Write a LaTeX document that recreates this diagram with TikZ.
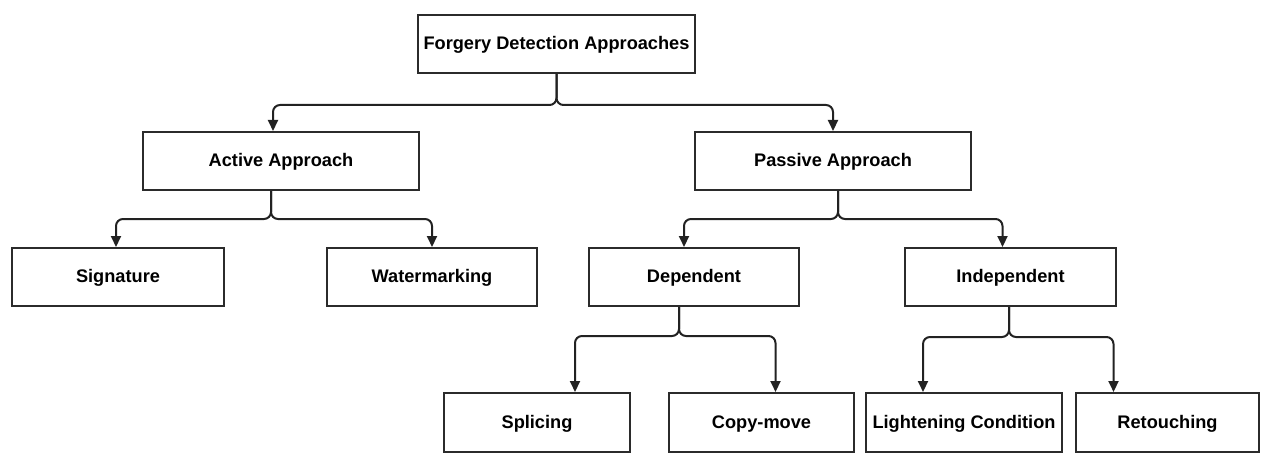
\documentclass[tikz,border=0pt]{standalone}
\usepackage{fontspec}
\setmainfont{Liberation Sans}
\usepackage{xcolor}
\usetikzlibrary{arrows.meta}
\definecolor{boxgray}{HTML}{2B2B2B}
\definecolor{linkgray}{HTML}{222222}

\begin{document}
\begin{tikzpicture}[x=0.5pt, y=-0.5pt, >=Stealth,
    every node/.style={font=\fontsize{9.1}{11}\selectfont\bfseries},
    box/.style={draw=boxgray, line width=1pt, fill=white, inner sep=0pt,
      minimum height=29pt, text height=6.6pt, text depth=1.1pt},
    link/.style={draw=linkgray, line width=1pt, rounded corners=3.5pt,
      -{Triangle[width=5pt,length=5.5pt]}}]
  \useasboundingbox (0,0) rectangle (1261,454);

  % top level
  \node[box, minimum width=138.5pt] (root) at (556.5,44) {Forgery Detection Approaches};
  \node[box, minimum width=138pt] (active) at (281,161) {Active Approach};
  \node[box, minimum width=138pt] (passive) at (833,161) {Passive Approach};

  % second level
  \node[box, minimum width=106pt] (signature) at (118,277) {Signature};
  \node[box, minimum width=105pt] (watermark) at (432,277) {Watermarking};
  \node[box, minimum width=105pt] (dependent) at (694,277) {Dependent};
  \node[box, minimum width=105.5pt] (independent) at (1010.5,277) {Independent};

  % third level
  \node[box, minimum width=93pt, minimum height=29.5pt] (splicing) at (537,422.5) {Splicing};
  \node[box, minimum width=92.5pt, minimum height=29.5pt] (copymove) at (761.5,422.5) {Copy-move};
  \node[box, minimum width=98pt, minimum height=29.5pt] (lightening) at (964,422.5) {Lightening Condition};
  \node[box, minimum width=91.5pt, minimum height=29.5pt] (retouching) at (1167.5,422.5) {Retouching};

  % connectors
  \draw[link] (root.south) -- ++(0,31) -| ([xshift=-4pt]active.north);
  \draw[link] (root.south) -- ++(0,31) -| (passive.north);
  \draw[link] ([xshift=-5pt]active.south) -- ++(0,28) -| ([xshift=-1pt]signature.north);
  \draw[link] ([xshift=-5pt]active.south) -- ++(0,28) -| (watermark.north);
  \draw[link] ([xshift=2.5pt]passive.south) -- ++(0,28) -| ([xshift=-5pt]dependent.north);
  \draw[link] ([xshift=2.5pt]passive.south) -- ++(0,28) -| ([xshift=-4pt]independent.north);
  \draw[link] ([xshift=-7.5pt]dependent.south) -- ++(0,29) -| ([xshift=19pt]splicing.north);
  \draw[link] ([xshift=-7.5pt]dependent.south) -- ++(0,29) -| ([xshift=7pt]copymove.north);
  \draw[link] ([xshift=-0.75pt]independent.south) -- ++(0,30) -| ([xshift=-20.5pt]lightening.north);
  \draw[link] ([xshift=-0.75pt]independent.south) -- ++(0,30) -| ([xshift=-27pt]retouching.north);
\end{tikzpicture}
\end{document}
